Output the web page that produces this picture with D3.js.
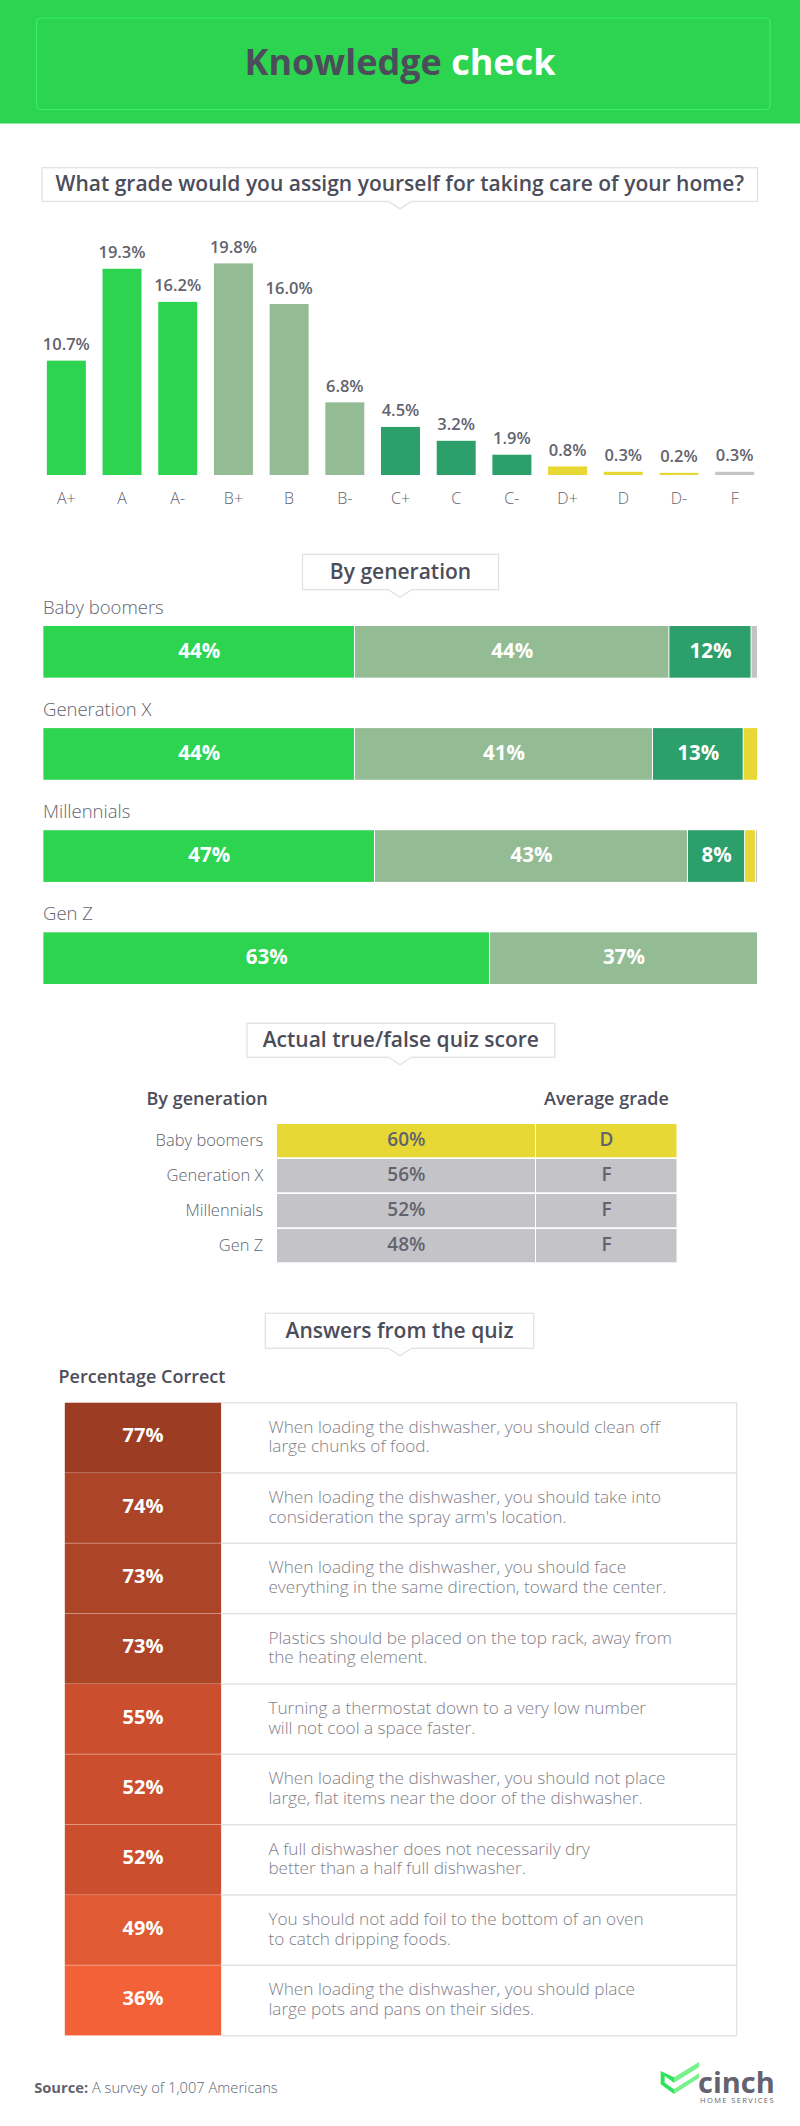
<!DOCTYPE html>
<html>
<head>
<meta charset="utf-8">
<script src="https://d3js.org/d3.v7.min.js"></script>
<style>
  body { margin: 0; background: #fff; }
  svg { display: block; font-family: "Open Sans", sans-serif; }
</style>
</head>
<body>
<svg id="chart" width="800" height="2126"></svg>
<script>
const grades = ["A+", "A", "A-", "B+", "B", "B-", "C+", "C", "C-", "D+", "D", "D-", "F"];
const gradeValues = [10.7, 19.3, 16.2, 19.8, 16.0, 6.8, 4.5, 3.2, 1.9, 0.8, 0.3, 0.2, 0.3];
const gradeLetters = ["A", "A", "A", "B", "B", "B", "C", "C", "C", "D", "D", "D", "F"];

const generations = ["Baby boomers", "Generation X", "Millennials", "Gen Z"];
const letters = ["A", "B", "C", "D", "F"];
// bar widths, printed labels are kept apart below
const shareA = [43.6, 43.6, 46.4, 62.5];
const shareB = [44.0, 41.7, 43.8, 37.5];
const shareC = [11.5, 12.7, 8.0, 0];
const shareD = [0, 2.0, 1.5, 0];
const shareF = [0.9, 0, 0.3, 0];
const labelA = ["44%", "44%", "47%", "63%"];
const labelB = ["44%", "41%", "43%", "37%"];
const labelC = ["12%", "13%", "8%", ""];

const quizScores = [60, 56, 52, 48];
const quizGrades = ["D", "F", "F", "F"];

const answerValues = [77, 74, 73, 73, 55, 52, 52, 49, 36];
const answerFirst = [
  "When loading the dishwasher, you should clean off",
  "When loading the dishwasher, you should take into",
  "When loading the dishwasher, you should face",
  "Plastics should be placed on the top rack, away from",
  "Turning a thermostat down to a very low number",
  "When loading the dishwasher, you should not place",
  "A full dishwasher does not necessarily dry",
  "You should not add foil to the bottom of an oven",
  "When loading the dishwasher, you should place"
];
const answerSecond = [
  "large chunks of food.",
  "consideration the spray arm's location.",
  "everything in the same direction, toward the center.",
  "the heating element.",
  "will not cool a space faster.",
  "large, flat items near the door of the dishwasher.",
  "better than a half full dishwasher.",
  "to catch dripping foods.",
  "large pots and pans on their sides."
];

const dark = "#4c4d5a";
const mid = "#62636e";
const soft = "#7f808a";
const letterColor = d3.scaleOrdinal()
  .domain(letters)
  .range(["#2cd450", "#94bc94", "#2c9f6b", "#e8d835", "#c4c4c8"]);
const answerColor = d3.scaleThreshold()
  .domain([40, 50, 60, 75])
  .range(["#f26138", "#e05a34", "#cb4f2e", "#ac4428", "#9c3c22"]);

const svg = d3.select("#chart");

// header
svg.append("rect").attr("width", 800).attr("height", 123.5).attr("fill", "#2cd450");
svg.append("rect")
  .attr("x", 36.5).attr("y", 18).attr("width", 733.5).attr("height", 91.5).attr("rx", 4)
  .attr("fill", "none").attr("stroke", "#37ee69").attr("stroke-width", 1.2);
const title = svg.append("text")
  .attr("x", 400).attr("y", 75).attr("text-anchor", "middle")
  .attr("font-size", 36).attr("font-weight", 700);
title.append("tspan").attr("fill", dark).text("Knowledge ");
title.append("tspan").attr("fill", "#fff").text("check");

// boxed section heading with the little tail under it
function callout(text, x0, x1, y0, y1) {
  const mx = 400;
  const g = svg.append("g");
  g.append("rect")
    .attr("x", x0).attr("y", y0).attr("width", x1 - x0).attr("height", y1 - y0)
    .attr("fill", "#fff").attr("stroke", "#e2e2e4").attr("stroke-width", 1.3);
  g.append("path")
    .attr("d", `M${mx - 11.5},${y1} L${mx},${y1 + 7.5} L${mx + 11.5},${y1}`)
    .attr("fill", "#fff").attr("stroke", "#e2e2e4").attr("stroke-width", 1.3);
  g.append("rect")
    .attr("x", mx - 10.5).attr("y", y1 - 1).attr("width", 21).attr("height", 1.6).attr("fill", "#fff");
  g.append("text")
    .attr("x", (x0 + x1) / 2).attr("y", y1 - 10.5).attr("text-anchor", "middle")
    .attr("font-size", 21).attr("font-weight", 600).attr("fill", dark)
    .text(text);
}

// self assigned grades
callout("What grade would you assign yourself for taking care of your home?", 42, 757.5, 167.7, 201.4);

const gradeX = d3.scaleBand().domain(grades).range([38.5, 762.5]).paddingInner(0.3).paddingOuter(0.15);
const gradeY = d3.scaleLinear().domain([0, 19.8]).range([475, 263.4]);

svg.append("g").selectAll("rect")
  .data(grades)
  .join("rect")
  .attr("x", d => gradeX(d))
  .attr("y", (d, i) => gradeY(gradeValues[i]))
  .attr("width", gradeX.bandwidth())
  .attr("height", (d, i) => gradeY(0) - gradeY(gradeValues[i]))
  .attr("fill", (d, i) => letterColor(gradeLetters[i]));

svg.append("g").selectAll("text")
  .data(grades)
  .join("text")
  .attr("x", d => gradeX(d) + gradeX.bandwidth() / 2)
  .attr("y", (d, i) => gradeY(gradeValues[i]) - 10.5)
  .attr("text-anchor", "middle")
  .attr("font-size", 16.5).attr("font-weight", 600).attr("fill", mid)
  .text((d, i) => gradeValues[i].toFixed(1) + "%");

const gradeAxis = svg.append("g")
  .attr("transform", "translate(0,475)")
  .call(d3.axisBottom(gradeX).tickSize(0).tickPadding(18));
gradeAxis.select(".domain").remove();
gradeAxis.selectAll("text")
  .attr("font-family", "'Open Sans', sans-serif").attr("font-size", 16)
  .attr("font-weight", 300).attr("fill", mid);

// by generation
callout("By generation", 302.5, 498.5, 554.3, 589.7);

const shareRows = generations.map((g, i) => ({
  A: shareA[i], B: shareB[i], C: shareC[i], D: shareD[i], F: shareF[i]
}));
const stacked = d3.stack().keys(letters)(shareRows);
const shareLabels = { A: labelA, B: labelB, C: labelC };
const shareX = d3.scaleLinear().domain([0, 100]).range([43.4, 758]);
const shareY = d3.scaleBand().domain(generations).range([626, 984]).paddingInner(0.494).paddingOuter(0);

svg.append("g").selectAll("text")
  .data(generations)
  .join("text")
  .attr("x", 43).attr("y", d => shareY(d) - 12)
  .attr("font-size", 18.5).attr("font-weight", 300).attr("fill", mid)
  .text(d => d);

const layers = svg.append("g").selectAll("g")
  .data(stacked)
  .join("g")
  .attr("fill", d => letterColor(d.key));

layers.selectAll("rect")
  .data(d => d)
  .join("rect")
  .attr("x", d => shareX(d[0]))
  .attr("y", (d, i) => shareY(generations[i]))
  .attr("width", d => Math.max(0, shareX(d[1]) - shareX(d[0]) - 1))
  .attr("height", shareY.bandwidth());

layers.filter(d => shareLabels[d.key]).selectAll("text")
  .data(d => d.map((p, i) => ({ p, i, label: shareLabels[d.key][i] })).filter(e => e.label))
  .join("text")
  .attr("x", e => (shareX(e.p[0]) + shareX(e.p[1])) / 2)
  .attr("y", e => shareY(generations[e.i]) + 32)
  .attr("text-anchor", "middle")
  .attr("font-size", 20.5).attr("font-weight", 700).attr("fill", "#fff")
  .text(e => e.label);

// quiz score table
callout("Actual true/false quiz score", 247, 554.7, 1023.3, 1057.3);

svg.append("text").attr("x", 146.5).attr("y", 1105)
  .attr("font-size", 18).attr("font-weight", 600).attr("fill", dark).text("By generation");
svg.append("text").attr("x", 606.5).attr("y", 1105).attr("text-anchor", "middle")
  .attr("font-size", 18).attr("font-weight", 600).attr("fill", dark).text("Average grade");

const scoreY = d3.scaleBand().domain(generations).range([1124, 1262.3]).paddingInner(0.05);
const scoreRows = svg.append("g").selectAll("g")
  .data(generations)
  .join("g")
  .attr("transform", d => `translate(0,${scoreY(d)})`);

scoreRows.append("rect")
  .attr("x", 277).attr("width", 258).attr("height", scoreY.bandwidth())
  .attr("fill", (d, i) => letterColor(quizGrades[i]));
scoreRows.append("rect")
  .attr("x", 536).attr("width", 140.5).attr("height", scoreY.bandwidth())
  .attr("fill", (d, i) => letterColor(quizGrades[i]));
scoreRows.append("text")
  .attr("x", 263.3).attr("y", 21.5).attr("text-anchor", "end")
  .attr("font-size", 16.5).attr("font-weight", 300).attr("fill", mid)
  .text(d => d);
scoreRows.append("text")
  .attr("x", 406.4).attr("y", 22).attr("text-anchor", "middle")
  .attr("font-size", 19).attr("font-weight", 600).attr("fill", mid)
  .text((d, i) => quizScores[i] + "%");
scoreRows.append("text")
  .attr("x", 606.5).attr("y", 22).attr("text-anchor", "middle")
  .attr("font-size", 19).attr("font-weight", 600).attr("fill", mid)
  .text((d, i) => quizGrades[i]);

// answers table
callout("Answers from the quiz", 265.3, 533.7, 1313.3, 1348.3);

svg.append("text").attr("x", 58.5).attr("y", 1383.3)
  .attr("font-size", 18).attr("font-weight", 600).attr("fill", dark).text("Percentage Correct");

const answerY = d3.scaleBand().domain(d3.range(answerValues.length)).range([1402.7, 2035.7]);
const answerRows = svg.append("g").selectAll("g")
  .data(answerValues)
  .join("g")
  .attr("transform", (d, i) => `translate(0,${answerY(i)})`);

answerRows.append("rect")
  .attr("x", 221).attr("width", 515.7).attr("height", answerY.bandwidth())
  .attr("fill", "#fff").attr("stroke", "#e2e2e4").attr("stroke-width", 1.3);
answerRows.append("rect")
  .attr("x", 64.8).attr("width", 156.2).attr("height", answerY.bandwidth())
  .attr("fill", d => answerColor(d));
answerRows.append("rect")
  .attr("x", 64.8).attr("y", answerY.bandwidth() - 0.6).attr("width", 156.2).attr("height", 1.2)
  .attr("fill", "#fff").attr("fill-opacity", 0.45);
answerRows.append("text")
  .attr("x", 143).attr("y", 39.5).attr("text-anchor", "middle")
  .attr("font-size", 20).attr("font-weight", 700).attr("fill", "#fff")
  .text(d => d + "%");
const answerText = answerRows.append("text")
  .attr("font-size", 17.2).attr("font-weight", 300).attr("fill", soft);
answerText.append("tspan").attr("x", 268.4).attr("y", 30).text((d, i) => answerFirst[i]);
answerText.append("tspan").attr("x", 268.4).attr("y", 49.5).text((d, i) => answerSecond[i]);

// source and logo
const source = svg.append("text").attr("x", 34.2).attr("y", 2092.7)
  .attr("font-size", 14.7).attr("fill", mid);
source.append("tspan").attr("font-weight", 700).text("Source: ");
source.append("tspan").attr("font-weight", 300).text("A survey of 1,007 Americans");

const logo = svg.append("g").attr("transform", "translate(640,2040) scale(0.3333)");
logo.append("path").attr("fill", "#2ee45c")
  .attr("d", "M62,93 L62,133 L102,162 L102,148 L74,128 L74,108 L102,128 L102,112 Z");
logo.append("path").attr("fill", "#78f08c")
  .attr("d", "M102,112 L177,66 L177,82 L102,128 Z M102,148 L177,100 L177,114 L102,162 Z");
svg.append("text").attr("x", 698).attr("y", 2093)
  .attr("font-size", 29).attr("font-weight", 700).attr("fill", "#62636e").text("cinch");
svg.append("text").attr("x", 700).attr("y", 2102.7)
  .attr("font-size", 7.5).attr("letter-spacing", 1.4).attr("fill", mid).text("HOME SERVICES");
</script>
</body>
</html>
